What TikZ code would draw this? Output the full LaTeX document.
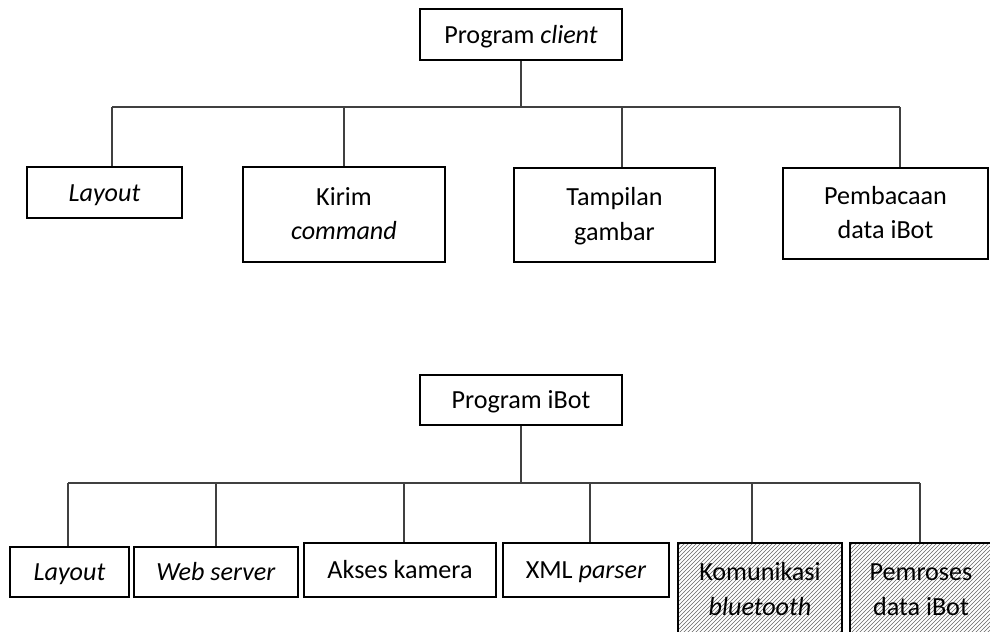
\documentclass[tikz,border=0pt]{standalone}
\usepackage{fontspec}
\setmainfont{Carlito}
\usepackage{tikz}
\usetikzlibrary{calc,patterns}

\begin{document}
\begin{tikzpicture}[x=0.75pt,y=-0.75pt,
  font=\fontsize{19.6}{26}\selectfont,
  box/.style={draw=black,line width=1.6pt,align=center,inner sep=0pt},
  onebox/.style={box,text height=13pt,text depth=0pt},
  twobox/.style={box,text height=38pt,text depth=0pt},
  hatchbox/.style={twobox,pattern=north east lines,pattern color=black!60},
  link/.style={draw=black!75,line width=0.9pt}]
\useasboundingbox (0,0) rectangle (990,632);
\clip (0,0) rectangle (990,632);
% Program client
\node[onebox,minimum width=151.5pt,minimum height=38.25pt] (client) at (521,34.5) {Program \textit{client}};
\node[onebox,minimum width=116.25pt,minimum height=38.25pt] (layA) at (104.5,192.5) {\textit{Layout}};
\node[twobox,minimum width=151.5pt,minimum height=71.25pt] (kirim) at (344,214.5) {Kirim\\\textit{command}};
\node[twobox,minimum width=150.75pt,minimum height=70.5pt] (tampil) at (614.5,215) {Tampilan\\gambar};
\node[twobox,minimum width=153.75pt,minimum height=68.25pt] (baca) at (885.5,213.5) {Pembacaan\\data iBot};
\coordinate (busA) at (0,107);
\draw[link] (client.south) -- (client.south |- busA);
\draw[link] ($(layA.north |- busA)+(7.5,0)$) -- ($(baca.north |- busA)+(14.5,0)$);
\draw[link] ($(layA.north)+(7.5,0)$) -- ($(layA.north |- busA)+(7.5,0)$);
\draw[link] (kirim.north) -- (kirim.north |- busA);
\draw[link] ($(tampil.north)+(7.5,0)$) -- ($(tampil.north |- busA)+(7.5,0)$);
\draw[link] ($(baca.north)+(14.5,0)$) -- ($(baca.north |- busA)+(14.5,0)$);
% Program iBot
\node[onebox,minimum width=151.5pt,minimum height=37.5pt] (ibot) at (521,400) {Program iBot};
\node[onebox,minimum width=89.25pt,minimum height=37.5pt] (layB) at (69.5,572) {\textit{Layout}};
\node[onebox,minimum width=123pt,minimum height=37.5pt] (web) at (216,572) {\textit{Web server}};
\node[onebox,minimum width=144pt,minimum height=40.5pt] (akses) at (400,570) {Akses kamera};
\node[onebox,minimum width=124.5pt,minimum height=40.5pt] (xml) at (586,570) {XML \textit{parser}};
\node[hatchbox,minimum width=123pt,minimum height=70.5pt] (kom) at (760,590) {Komunikasi\\\textit{bluetooth}};
\node[hatchbox,minimum width=106.5pt,minimum height=70.5pt] (proses) at (921,590) {Pemroses\\data iBot};
\coordinate (busB) at (0,483);
\draw[link] (ibot.south) -- (ibot.south |- busB);
\draw[link] ($(layB.north |- busB)+(-1.5,0)$) -- ($(proses.north |- busB)+(-1,0)$);
\draw[link] ($(layB.north)+(-1.5,0)$) -- ($(layB.north |- busB)+(-1.5,0)$);
\draw[link] (web.north) -- (web.north |- busB);
\draw[link] ($(akses.north)+(4,0)$) -- ($(akses.north |- busB)+(4,0)$);
\draw[link] ($(xml.north)+(4,0)$) -- ($(xml.north |- busB)+(4,0)$);
\draw[link] ($(kom.north)+(-8,0)$) -- ($(kom.north |- busB)+(-8,0)$);
\draw[link] ($(proses.north)+(-1,0)$) -- ($(proses.north |- busB)+(-1,0)$);
\end{tikzpicture}
\end{document}
